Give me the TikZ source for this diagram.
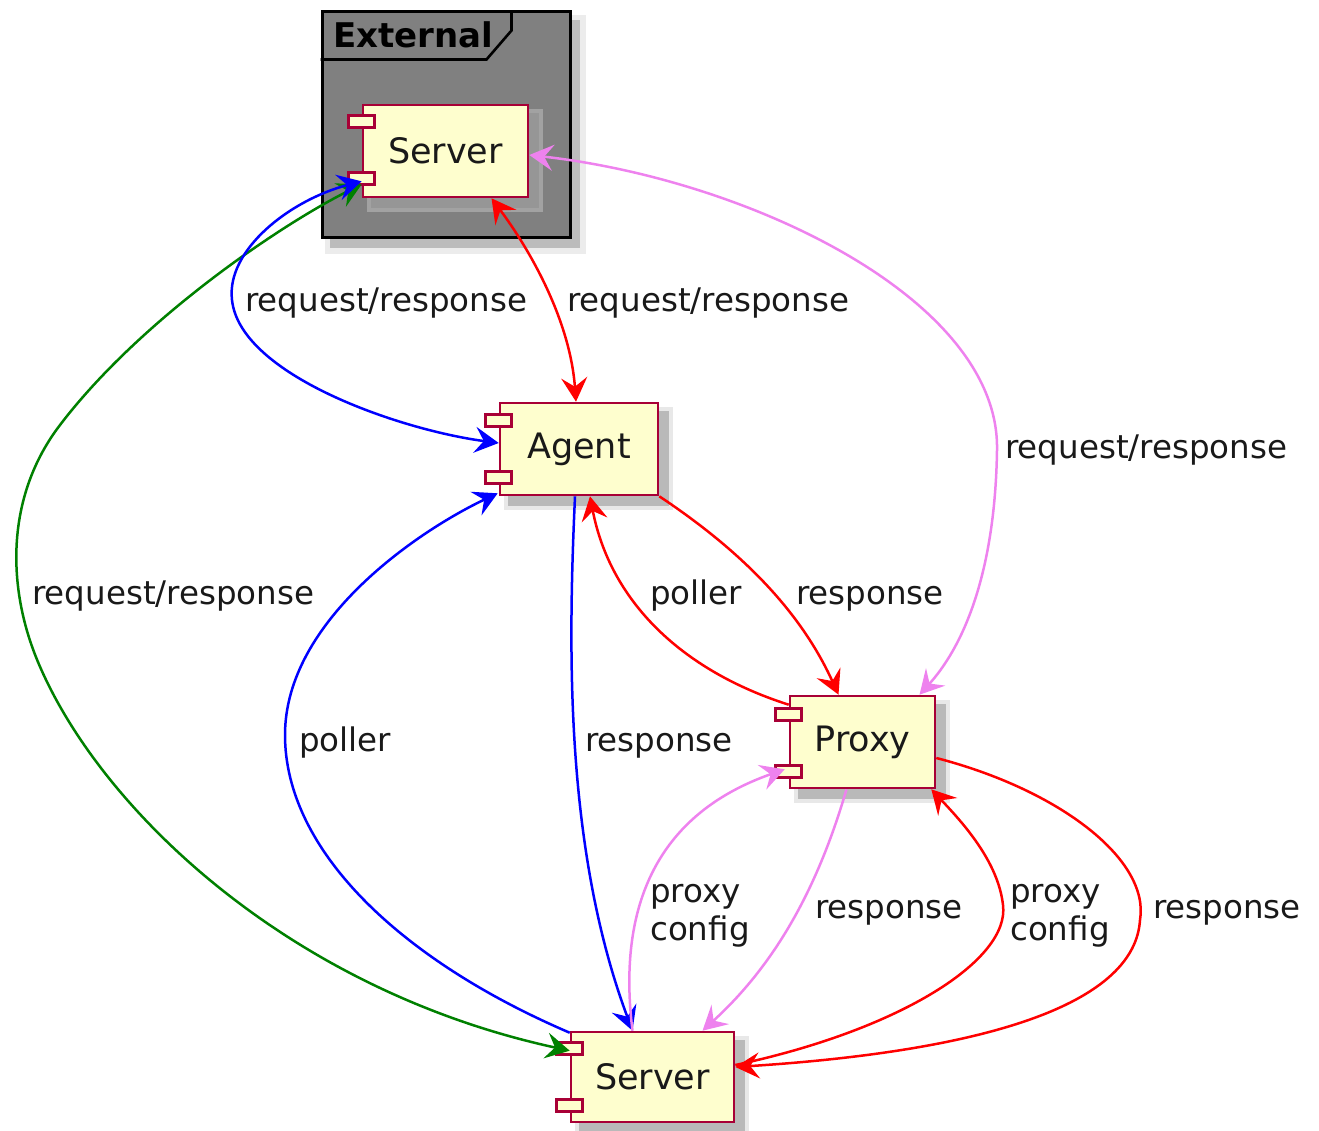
\documentclass[tikz,border=0pt]{standalone}
\usepackage{fontspec}
\setmainfont{DejaVu Sans}
\usetikzlibrary{calc,arrows.meta}
\definecolor{compfill}{HTML}{FEFECE}
\definecolor{compline}{HTML}{A80036}
\definecolor{pviolet}{HTML}{EE82EE}
\definecolor{pgreen}{HTML}{008000}
\definecolor{framegray}{HTML}{808080}
\tikzset{
  comp/.style={draw=compline, fill=compfill, line width=2.6pt, inner sep=0pt,
    font=\fontsize{35}{40}\selectfont, text=black!90},
  port/.style={draw=compline, fill=compfill, line width=2.6pt, inner sep=0pt,
    minimum width=26pt, minimum height=12pt},
  shad/.style={fill=black!45, opacity=0.5},
  lab/.style={font=\fontsize{32.5}{38}\selectfont, inner sep=0pt, anchor=mid west, text=black!90},
  lab2/.style={font=\fontsize{32.5}{38}\selectfont, inner sep=0pt, anchor=west, align=left, text=black!90},
  tipa/.tip={Stealth[length=24pt, width=26pt, inset=9pt]},
  conn/.style={line width=2.5pt, arrows={-tipa}},
  conn2/.style={line width=2.5pt, arrows={tipa-tipa}},
}
\begin{document}
\begin{tikzpicture}[x=1pt,y=-1pt]
\useasboundingbox (0,0) rectangle (1319,1131);
% External frame
\fill[black!12, opacity=0.6] (325,15) rectangle (586,254);
\fill[shad] (330,20) rectangle (580,248);
\node[draw=black, fill=framegray, line width=3pt, minimum width=248pt, minimum height=226pt, inner sep=0pt] (ext) at (446,125) {};
\draw[line width=2.6pt] (ext.north west) ++(0,49) -- ++(166,0) -- ++(25,-29) -- ++(0,-20);
\node[font=\fontsize{34}{40}\selectfont\bfseries, anchor=mid west, inner sep=0pt] (extt) at (333,45) {External};
% shadows of components
\foreach \x/\y/\w/\h in {363/105/165/92, 500/403/158/92, 790/696/145/92, 571/1032/163/90}{
  \fill[black!20, opacity=0.45] (\x+4,\y+4) rectangle (\x+\w+15,\y+\h+15);
  \fill[shad] (\x+8,\y+8) rectangle (\x+\w+11,\y+\h+11);
}
% components
\node[comp, minimum width=165pt, minimum height=92pt] (es) at (445.5,151) {Server};
\node[port] (esP1) at ($(es.north west)+(0,18)$) {};
\node[port] (esP2) at ($(es.south west)+(0,-20)$) {};
\node[comp, minimum width=158pt, minimum height=92pt] (ag) at (579,449) {Agent};
\node[port] (agP1) at ($(ag.north west)+(0,19)$) {};
\node[port] (agP2) at ($(ag.south west)+(0,-19)$) {};
\node[comp, minimum width=145pt, minimum height=92pt] (px) at (862.5,742) {Proxy};
\node[port] (pxP1) at ($(px.north west)+(0,20)$) {};
\node[port] (pxP2) at ($(px.south west)+(0,-18)$) {};
\node[comp, minimum width=163pt, minimum height=90pt] (bs) at (652.5,1077) {Server};
\node[port] (bsP1) at ($(bs.north west)+(0,18)$) {};
\node[port] (bsP2) at ($(bs.south west)+(0,-18)$) {};
% connectors
% green: external server <-> bottom server
\draw[conn2, pgreen] ($(es.south west)+(0,-14)$) .. controls (280,225) and (140,320) .. (60,425)
  .. controls (5,497) and (7,588) .. (38,662)
  .. controls (100,810) and (290,990) .. ($(bs.north west)+(0,20)$);
% blue: external server <-> agent
\draw[conn2, blue] ($(es.south west)+(0,-17)$) .. controls (290,200) and (226,250) .. (232,300)
  .. controls (240,375) and (400,430) .. ($(ag.west)+(0,-6)$);
% red: external server <-> agent
\draw[conn2, red] ($(es.south)+(46,0)$) .. controls (530,250) and (570,320) .. ($(ag.north)+(-3,0)$);
% violet: external server <-> proxy
\draw[conn2, pviolet] ($(es.east)+(0,4)$) .. controls (750,180) and (1000,300) .. (997,450)
  .. controls (995,580) and (960,650) .. ($(px.north)+(57,0)$);
% blue poller: bottom server -> agent
\draw[conn, blue] ($(bs.north west)+(0,2)$) .. controls (400,960) and (285,850) .. (285,735)
  .. controls (285,620) and (420,530) .. ($(ag.south west)+(-1,-3)$);
% blue response: agent -> bottom server
\draw[conn, blue] ($(ag.south)+(-4,0)$) .. controls (568,650) and (565,850) .. ($(bs.north)+(-20,0)$);
% red poller: proxy -> agent
\draw[conn, red] ($(px.north west)+(0,10)$) .. controls (680,670) and (610,600) .. ($(ag.south)+(11,0)$);
% red response: agent -> proxy
\draw[conn, red] (ag.south east) .. controls (740,550) and (800,610) .. ($(px.north)+(-24,0)$);
% violet proxy config: bottom server -> proxy
\draw[conn, pviolet] ($(bs.north)+(-20,0)$) .. controls (620,930) and (640,820) .. ($(px.south west)+(-4,-20)$);
% violet response: proxy -> bottom server
\draw[conn, pviolet] ($(px.south)+(-16,0)$) .. controls (820,880) and (780,960) .. ($(bs.north)+(50,0)$);
% red proxy config: bottom server -> proxy
\draw[conn, red] ($(bs.east)+(0,-12)$) .. controls (900,1030) and (1010,960) .. (1003,905)
  .. controls (998,860) and (960,820) .. ($(px.south east)+(-5,0)$);
% red response: proxy -> bottom server
\draw[conn, red] ($(px.east)+(0,16)$) .. controls (1060,790) and (1150,860) .. (1140,920)
  .. controls (1135,1000) and (1000,1050) .. ($(bs.east)+(0,-10)$);
% labels
\node[lab] (l1) at (245,309) {request/response};
\node[lab] (l2) at (567,309) {request/response};
\node[lab] (l3) at (1005,456) {request/response};
\node[lab] (l4) at (32,602) {request/response};
\node[lab] (l5) at (650,602) {poller};
\node[lab] (l6) at (796,602) {response};
\node[lab] (l7) at (299,749) {poller};
\node[lab] (l8) at (585,749) {response};
\node[lab2] (l9) at (650,916) {proxy\\config};
\node[lab] (l10) at (815,916) {response};
\node[lab2] (l11) at (1010,916) {proxy\\config};
\node[lab] (l12) at (1153,916) {response};
\end{tikzpicture}
\end{document}
